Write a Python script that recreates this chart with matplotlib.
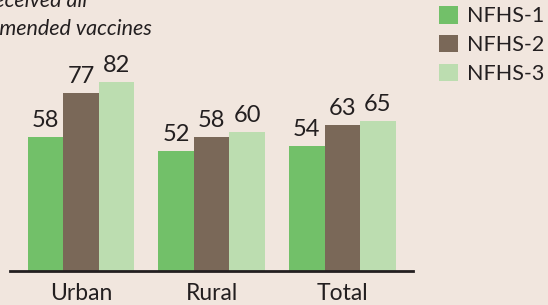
import numpy as np
import matplotlib.pyplot as plt

groups = ['Urban', 'Rural', 'Total']
series = ['NFHS-1', 'NFHS-2', 'NFHS-3']
nfhs1 = [58, 52, 54]
nfhs2 = [77, 58, 63]
nfhs3 = [82, 60, 65]
colors = ['#72c069', '#7a6858', '#bcddb0']

bg = '#f1e6de'
ink = '#231f20'
plt.rcParams['font.family'] = ['Lato', 'DejaVu Sans']

fig = plt.figure(figsize=(5.48, 3.05), dpi=100, facecolor=bg)
ax = fig.add_axes([10/548, 34/305, 403/548, 231/305])
ax.set_facecolor(bg)

x = np.arange(len(groups))
w = 0.272
bars = []
for i, (vals, c, lab) in enumerate(zip([nfhs1, nfhs2, nfhs3], colors, series)):
    b = ax.bar(x + (i - 1) * w, vals, w, color=c, label=lab)
    bars.append(b)
    for xx, v in zip(x + (i - 1) * w, vals):
        ax.text(xx, v + 2.6, str(v), ha='center', va='bottom', fontsize=17, color=ink)

ax.set_xlim(-0.543, 2.54)
ax.set_ylim(0, 100)
for s in ['top', 'right', 'left']:
    ax.spines[s].set_visible(False)
ax.spines['bottom'].set_color(ink)
ax.spines['bottom'].set_linewidth(2)
ax.set_yticks([])
ax.set_xticks(x)
ax.set_xticklabels(groups, fontsize=16.5, color=ink)
ax.tick_params(axis='x', length=0, pad=9)

# heading (cut off at the left edge in the original)
fig.text(87/548, 1 - 7/305, 'received all', ha='right', va='baseline',
         fontsize=15.5, style='italic', color=ink)
fig.text(152/548, 1 - 35/305, 'recommended vaccines', ha='right', va='baseline',
         fontsize=15.5, style='italic', color=ink)

fig.legend(handles=bars, labels=series, loc='upper left',
           bbox_to_anchor=(439/548, 1 - 6/305), frameon=False, fontsize=15.5,
           handlelength=0.88, handleheight=0.88, handletextpad=0.42,
           labelspacing=0.4, borderpad=0, borderaxespad=0, labelcolor=ink)

fig.savefig('out.png', dpi=100, facecolor=bg)
